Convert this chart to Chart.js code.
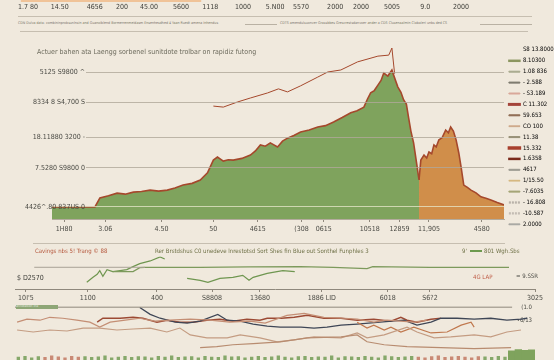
<!DOCTYPE html>
<html><head><meta charset="utf-8">
<script src="https://cdn.jsdelivr.net/npm/chart.js@4.4.1/dist/chart.umd.min.js"></script>
<style>
html,body{margin:0;padding:0;background:#f0e9dd;width:554px;height:360px;overflow:hidden;}
body{position:relative;font-family:"Liberation Sans Narrow","DejaVu Sans Condensed",sans-serif;}
canvas{position:absolute;}
.txt{position:absolute;white-space:nowrap;line-height:1;}
.hl{position:absolute;height:1px;background:#c6beb0;}
</style></head><body>
<canvas id="cTop" width="554" height="15" style="left:0;top:0"></canvas>
<div class="hl" style="left:18px;top:16px;width:514px"></div>
<div class="txt" style="left:18px;top:22px;font-size:3.6px;color:#7a776c">CDN Dulva data: combininprobsunlnsin and Guanoiblend Bormerrenmeidasm Ensenhesdhed 4 Yaan Ruedt amena Inhendus</div>
<div class="hl" style="left:245px;top:24px;width:32px;background:#b9b1a3"></div>
<div class="txt" style="left:280px;top:22px;font-size:3.6px;color:#7a776c">CDTS amendulsuonver Grassbbes Grescrestsdanvoer ander a CDS Clusenaalmin Clabaleri unbs ded CS</div>
<div class="hl" style="left:480px;top:24px;width:52px;background:#b9b1a3"></div>
<div class="hl" style="left:20px;top:31px;width:508px"></div>

<canvas id="cMain" width="554" height="215" style="left:0;top:30px"></canvas>
<div class="txt" style="left:37px;top:49px;font-size:7px;color:#6e6c5e">Actuer bahen ata Laengg sorbenel sunitdote trolbar on rapidiz futong</div>

<div class="hl" style="left:33px;top:243px;width:472px"></div>
<div class="txt" style="left:35px;top:248px;font-size:6px;color:#b5573c">Cavings nbs 5! Trang © 88</div>
<div class="txt" style="left:155px;top:248px;font-size:6px;color:#6e7046">Rer Brstdshus C0 unedeve lnrestotsd Sort Shes fin Blue out Sonthel Funphles 3</div>
<div class="txt" style="left:462px;top:248px;font-size:6px;color:#6e7046">9'</div>
<div class="hl" style="left:470px;top:250px;width:12px;height:2px;background:#6d9a4f"></div>
<div class="txt" style="left:484px;top:248px;font-size:6px;color:#6e7046">801 Wgh.Sbs</div>
<canvas id="cMid" width="554" height="52" style="left:0;top:250px"></canvas>
<div class="txt" style="left:473px;top:274px;font-size:6px;color:#c0604a">4G LAP</div>

<canvas id="cLow" width="554" height="61" style="left:0;top:300px"></canvas>
<div class="txt" style="left:16px;top:305px;width:42px;height:4px;background:#8ea676;font-size:3.4px;color:#e8eee0;overflow:hidden">annotation lnd</div>

<script>
// ---------- DATA ----------
// top strip
const topTickPos = [0, 1.03, 2.16, 3.04, 3.91, 4.95, 5.89, 6.95, 7.99, 8.83, 9.93, 10.77, 11.77, 12.84, 14.0];
const topTickLabels = ["1.7 80","14.50","4656","200","45.00","5600","1118","1000","5.N00","5570","2000","2000","5005","9.0","2000"];
const topBarRange = [-0.22, 5.59];

// main chart
const greenT = [0, 9.5, 10.6, 12.5, 14.4, 16.2, 18.0, 19.8, 21.7, 23.6, 25.5, 27.2, 29.0, 31.0, 32.8, 34.4, 35.7, 36.6, 37.9, 39.0, 40.1, 42.0, 43.9, 45.0, 46.1, 47.2, 48.3, 49.9, 51.0, 52.1, 53.5, 55.0, 56.9, 58.8, 60.5, 62.3, 64.2, 66.1, 67.5, 69.0, 69.8, 70.5, 71.3, 72.1, 72.8, 73.4, 74.3, 75.2, 75.6, 76.5, 77.2, 77.8, 78.4, 78.9, 79.4, 80.0, 80.5, 81.2];
const greenV = [0, 0, 0.27, 0.33, 0.41, 0.38, 0.44, 0.46, 0.50, 0.47, 0.50, 0.56, 0.65, 0.70, 0.80, 1.01, 1.39, 1.48, 1.36, 1.40, 1.39, 1.44, 1.54, 1.66, 1.84, 1.80, 1.90, 1.78, 1.95, 2.04, 2.12, 2.22, 2.28, 2.37, 2.41, 2.52, 2.65, 2.79, 2.85, 2.96, 3.20, 3.38, 3.45, 3.61, 3.75, 3.97, 3.88, 4.06, 3.90, 3.56, 3.40, 3.17, 3.05, 2.64, 2.25, 1.90, 1.45, 0.80];
const orangeT = [81.2, 81.6, 82.3, 82.9, 83.4, 84.0, 84.5, 85.0, 85.6, 86.3, 87.1, 87.7, 88.2, 88.8, 89.4, 90.0, 90.5, 91.1, 91.9, 92.7, 93.8, 94.9, 96.0, 97.1, 98.5, 100];
const orangeV = [0.80, 1.39, 1.54, 1.45, 1.63, 1.58, 1.84, 1.78, 1.99, 2.05, 2.28, 2.20, 2.37, 2.25, 1.99, 1.60, 1.19, 0.65, 0.58, 0.50, 0.42, 0.30, 0.26, 0.21, 0.13, 0.06];
const forecastT = [35.7, 37.9, 41.0, 43.9, 47.7, 50.1, 52.1, 55.0, 58.8, 61.0, 63.9, 67.6, 72.1, 74.5, 75.2, 75.8];
const forecastV = [2.99, 2.96, 3.11, 3.23, 3.38, 3.50, 3.41, 3.59, 3.85, 4.00, 4.06, 4.30, 4.47, 4.50, 4.71, 3.95];
const mainXTickPos = [2.7, 11.8, 24.2, 35.7, 45.5, 55.2, 60.1, 70.3, 76.9, 83.4, 95.1];
const mainXTickLabels = ["1H80","3.06","4.50","50","4615","(308","0615","10518","12859","11,905","4580"];
const mainYTickPos = [0, 1.16, 2.07, 3.11, 4.0];
const mainYTickLabels = ["4426^.80 837US 0","7.5280 S9800 0","18.11880 3200 -","8334 8 S4,700 S","5125 S9800 ^"];
const legendText = ["S8 13.8000","8.10300","1.08 836","- 2.588","- S3.189","C 11.302","59.653","CO 100","11.38","15.332","1.6358","4617","1/15.50","-7.6035","- 16.808","-10.587","2.0000"];
const legendColors = ["rgba(0,0,0,0)","#8c9660","#a9aa8e","#7d7a6e","#d9a89a","#a4443a","#8e6a52","#c9a080","#948e74","#a8402e","#7a2a1c","#9c9a92","#d2b377","#a3a474","#a7a199","#b6aea6","#a4a4a0"];
const legendWidths = [0, 1.5, 1, 1, 1, 2, 1, 0.6, 1, 2.5, 1.5, 1, 0.6, 1, 1, 1, 0.8];
const legendDashed = [false,false,false,false,false,false,false,false,false,false,false,false,false,false,true,true,false];

// middle panel
const midXTickPos = [2.1, 14.0, 27.3, 37.9, 47.1, 59.0, 71.7, 79.8, 100.0];
const midXTickLabels = ["10I'5","1100","400","S8808","13680","1886 LID","6018","S6?2","3025"];
const riseU = [13.8, 15.0, 15.8, 16.3, 16.9, 17.7, 18.8, 20.2, 21.5, 22.7, 24.0, 26.0, 27.9, 28.8];
const riseV = [2.0, 3.5, 4.4, 5.5, 3.8, 5.8, 5.2, 5.5, 5.8, 6.7, 7.6, 8.4, 9.6, 9.0];
const flatU = [18.8, 22.7, 24.0, 25.0, 35.6, 45.0, 54.8, 61.2, 67.7, 68.8, 79.8, 95.0];
const flatV = [5.2, 5.2, 6.4, 6.5, 6.5, 6.6, 6.7, 6.5, 6.1, 6.7, 6.5, 6.5];
const baseU = [3.7, 25.0];
const baseV = [6.5, 6.5];
const dipU = [33.1, 35.6, 37.1, 39.4, 41.9, 43.8, 45.0, 45.8, 48.5, 50.4, 51.5, 53.8];
const dipV = [3.2, 2.6, 2.0, 3.2, 3.5, 4.1, 2.6, 3.5, 4.7, 5.2, 5.5, 5.2];
const midLeftLabel = ["$ D2570"], midLeftPos = [3.3];
const midRightLabel = ["= 9.SSR"], midRightPos = [3.8];

// lower panel
const refU = [0, 95.6], refV = [89, 89];
const r1U = [15.8, 16.9, 18.3, 20.2, 22.7, 24.6, 27.3, 29.2, 31.7, 34.2, 36.9, 39.4, 41.9, 44.6, 47.1, 48.5, 51.2, 53.7, 56.2, 59.4, 62.7, 65.8, 69.0, 72.3, 74.2, 75.4, 77.3, 80.0, 81.9];
const r1V = [63.9, 70.5, 70.5, 70.5, 72.1, 70.5, 63.9, 67.2, 63.9, 63.9, 67.2, 68.9, 65.6, 68.9, 67.2, 70.5, 70.5, 72.1, 75.4, 70.5, 70.5, 67.2, 68.9, 65.6, 72.1, 67.2, 63.9, 68.9, 70.5];
const navyU = [24.0, 26.0, 27.9, 30.8, 33.1, 35.6, 39.0, 40.8, 43.3, 45.8, 48.5, 51.0, 55.0, 57.5, 60.0, 62.7, 65.8, 70.2, 74.8, 77.3, 80.0, 81.9, 85.0, 88.3, 91.5, 94.6, 97.3, 98.5];
const navyV = [88.5, 77.0, 70.5, 63.9, 62.3, 65.6, 77.0, 67.2, 65.6, 60.7, 57.4, 55.7, 55.7, 54.1, 55.7, 59.0, 60.7, 63.9, 67.2, 59.0, 63.9, 70.5, 70.5, 68.9, 70.5, 67.2, 68.9, 70.5];
const t1U = [0.4, 2.3, 4.8, 6.7, 9.2, 11.9, 14.4, 16.3, 18.3, 21.2, 24.0, 26.9, 29.8, 33.7, 37.5, 41.3, 45.2, 48.1, 52.3, 55.6, 59.4, 63.3, 65.8, 69.0, 71.5, 76.7, 79.2];
const t1V = [63.9, 68.9, 67.2, 72.1, 70.5, 67.2, 63.9, 55.7, 63.9, 67.2, 70.5, 65.6, 67.2, 68.9, 67.2, 63.9, 65.6, 62.3, 75.4, 78.7, 72.1, 70.5, 68.9, 63.9, 67.2, 63.9, 67.2];
const t2U = [0.4, 3.5, 6.7, 10.0, 13.1, 16.3, 19.6, 22.7, 26.0, 29.2, 31.7, 33.7, 36.9, 40.8, 43.3, 47.1, 50.4, 53.7, 57.5, 62.7, 65.8, 67.7, 71.0, 75.4, 77.3, 80.6, 83.8, 88.3, 91.5, 94.6, 97.3];
const t2V = [50.8, 47.5, 50.8, 49.2, 54.1, 54.1, 50.8, 52.5, 54.1, 47.5, 54.1, 42.6, 37.7, 37.7, 42.6, 37.7, 31.1, 34.4, 39.3, 37.7, 45.9, 37.7, 42.6, 55.7, 47.5, 37.7, 39.3, 42.6, 39.3, 47.5, 50.8];
const t3U = [35.6, 38.8, 41.9, 45.8, 51.0, 56.2, 62.7, 65.8, 67.7, 71.0, 75.4, 81.9, 88.3, 95.4];
const t3V = [21.3, 23.0, 26.2, 27.9, 31.1, 37.7, 39.3, 42.6, 31.1, 26.2, 23.0, 21.3, 19.7, 21.3];
const r2U = [65.8, 67.7, 69.0, 71.0, 72.3, 74.2, 76.7, 80.0, 83.1, 85.8, 87.7, 88.3];
const r2V = [63.9, 54.1, 59.0, 50.8, 55.7, 47.5, 55.7, 45.9, 47.5, 59.0, 63.9, 55.7];
const lowRightLabels = ["•6/13", "(1.0"], lowRightPos = [67, 89];
const grassVals = [1.2,1.5,1.0,1.4,1.1,1.6,1.3,1.0,1.5,1.2,1.4,1.1,1.3,1.6,1.0,1.2,1.5,1.1,1.4,1.3,1.0,1.5,1.2,1.6,1.1,1.3,1.4,1.0,1.5,1.2,1.1,1.6,1.3,1.4,1.0,1.2,1.5,1.1,1.3,1.6,1.2,1.0,1.4,1.5,1.1,1.3,1.2,1.6,1.0,1.4,1.3,1.1,1.5,1.2,1.0,1.6,1.4,1.1,1.3,1.5,1.2,1.0,1.4,1.6,1.1,1.3,1.5,1.2,1.0,1.4,1.3,1.1,1.5,1.2,0,0,0,0];
const blockVals = [0,0,0,0,0,0,0,0,0,0,0,0,0,0,0,0,0,0,0,0,0,0,0,0,0,0,0,0,0,0,0,0,0,0,0,0,0,0,0,0,0,0,0,0,0,0,0,0,0,0,0,0,0,0,0,0,0,0,0,0,0,0,0,0,0,0,0,0,0,0,0,0,0,0,3.2,3.6,3.4,3.5];
const reddishRanges = [[4, 9], [60, 69]];

// ---------- CHARTS ----------
const FAM = '"Liberation Sans Narrow","DejaVu Sans Condensed",sans-serif';
Chart.defaults.font.family = FAM;
Chart.defaults.color = '#4a4a44';
const pts = (xs, ys) => xs.map((x, i) => ({x, y: ys[i]}));
const fixTicks = arr => s => { s.ticks = arr.map(v => ({value: v})); };
const base = {responsive: false, animation: false, events: [], plugins: {legend: {display: false}, tooltip: {enabled: false}}};

// top strip
new Chart(document.getElementById('cTop'), {
  type: 'bar',
  data: {labels: [''], datasets: [{data: [topBarRange], backgroundColor: '#f0c398', barPercentage: 1, categoryPercentage: 1}]},
  options: Object.assign({}, base, {
    indexAxis: 'y',
    layout: {padding: {left: 12.5, right: 77.5, top: 0, bottom: 0}},
    scales: {
      y: {display: false},
      x: {type: 'linear', min: -0.5, max: 14.5, afterBuildTicks: fixTicks(topTickPos), afterFit: s => { s.height = 13; },
          grid: {display: false, drawTicks: false}, border: {display: false},
          ticks: {padding: 1, color: '#3d3d38', font: {size: 7}, maxRotation: 0, autoSkip: false, callback: (v, i) => topTickLabels[i]}}
    }
  })
});

// measure widest y label for main chart
const mctx = document.createElement('canvas').getContext('2d');
mctx.font = '7px ' + FAM;
const widest = Math.max(...mainYTickLabels.map(t => mctx.measureText(t).width));
const yPad = 33 - widest;

new Chart(document.getElementById('cMain'), {
  type: 'line',
  data: {datasets: [
    {data: pts(greenT, greenV), fill: 'start', backgroundColor: '#7fa35d', borderColor: '#a5482c', borderWidth: 1.6, pointRadius: 0, tension: 0},
    {data: pts(orangeT, orangeV), fill: 'start', backgroundColor: '#d08e4a', borderColor: '#a5482c', borderWidth: 1.6, pointRadius: 0, tension: 0},
    {data: pts(forecastT, forecastV), fill: false, borderColor: '#a5482c', borderWidth: 1, pointRadius: 0, tension: 0}
  ]},
  options: Object.assign({}, base, {
    layout: {padding: {top: 12, bottom: 10, left: 0, right: 0}},
    plugins: {
      tooltip: {enabled: false},
      legend: {
        display: true, position: 'right', align: 'start', maxWidth: 50,
        labels: {
          boxWidth: 11, boxHeight: 1, padding: 4.9, color: '#5a5850', font: {size: 6},
          generateLabels: () => legendText.map((t, i) => ({
            text: t, fillStyle: legendDashed[i] ? 'rgba(0,0,0,0)' : legendColors[i], strokeStyle: legendColors[i],
            lineWidth: legendWidths[i], lineDash: legendDashed[i] ? [2, 1] : [], hidden: false, index: i
          }))
        }
      }
    },
    scales: {
      x: {type: 'linear', min: 0, max: 100, afterBuildTicks: fixTicks(mainXTickPos), afterFit: s => { s.height = 16; },
          border: {display: true, color: '#b3ab9d'},
          grid: {drawOnChartArea: false, drawTicks: true, tickLength: 3, color: '#8f887c'},
          ticks: {padding: 3, color: '#4a4a44', font: {size: 7}, maxRotation: 0, autoSkip: false, callback: (v, i) => mainXTickLabels[i]}},
      y: {min: -0.356, max: 4.889, afterBuildTicks: fixTicks(mainYTickPos), afterFit: s => { s.width = 52; },
          border: {display: false},
          grid: {drawTicks: false, z: 1, color: c => c.index === 0 ? 'rgba(232,232,205,0.75)' : 'rgba(176,168,154,0.8)'},
          ticks: {mirror: true, crossAlign: 'far', padding: yPad, z: 2, color: '#4a4a44', font: {size: 7},
                  showLabelBackdrop: true, backdropPadding: 1,
                  backdropColor: c => c.index === 0 ? 'rgba(0,0,0,0)' : '#f0e9dd',
                  callback: (v, i) => mainYTickLabels[i]}}
    }
  })
});

// middle panel
new Chart(document.getElementById('cMid'), {
  type: 'line',
  data: {datasets: [
    {data: pts(baseU, baseV), borderColor: '#a9a296', borderWidth: 1, pointRadius: 0},
    {data: pts(flatU, flatV), borderColor: '#7d9a5c', borderWidth: 1.2, pointRadius: 0},
    {data: pts(riseU, riseV), borderColor: '#6f9650', borderWidth: 1.2, pointRadius: 0},
    {data: pts(dipU, dipV), borderColor: '#6f9650', borderWidth: 1.2, pointRadius: 0}
  ]},
  options: Object.assign({}, base, {
    layout: {padding: {top: 6, bottom: 0, left: 15, right: 19}},
    scales: {
      x: {type: 'linear', min: 0, max: 100, afterBuildTicks: fixTicks(midXTickPos), afterFit: s => { s.height = 13; },
          border: {display: true, color: '#8f887c'},
          grid: {drawOnChartArea: false, tickLength: 3, color: '#8f887c'},
          ticks: {padding: 2, color: '#4a4a44', font: {size: 7}, maxRotation: 0, autoSkip: false, callback: (v, i) => midXTickLabels[i]}},
      y: {min: 0, max: 9.7, afterBuildTicks: fixTicks(midLeftPos), afterFit: s => { s.width = 0; },
          grid: {display: false}, border: {display: false},
          ticks: {mirror: true, padding: 2, color: '#3d3d38', font: {size: 7}, callback: (v, i) => midLeftLabel[i]}},
      y2: {position: 'right', min: 0, max: 9.7, afterBuildTicks: fixTicks(midRightPos), afterFit: s => { s.width = 0; },
          grid: {display: false}, border: {display: false},
          ticks: {mirror: true, padding: 3, color: '#4a4a44', font: {size: 6}, callback: (v, i) => midRightLabel[i]}}
    }
  })
});

// lower panel
const isReddish = i => reddishRanges.some(r => i >= r[0] && i <= r[1]);
new Chart(document.getElementById('cLow'), {
  type: 'line',
  data: {
    labels: grassVals.map((v, i) => String(i)),
    datasets: [
      {type: 'bar', data: grassVals, xAxisID: 'xb', yAxisID: 'yb', grouped: false, barPercentage: 0.5, categoryPercentage: 1,
       backgroundColor: c => isReddish(c.dataIndex) ? '#c98a75' : '#86a86a'},
      {type: 'bar', data: blockVals, xAxisID: 'xb', yAxisID: 'yb', grouped: false, barPercentage: 1, categoryPercentage: 1, backgroundColor: '#7fa35d'},
      {data: pts(refU, refV), xAxisID: 'x', yAxisID: 'y', borderColor: '#8f887c', borderWidth: 1, pointRadius: 0},
      {data: pts(t3U, t3V), xAxisID: 'x', yAxisID: 'y', borderColor: '#b88c70', borderWidth: 1.2, pointRadius: 0},
      {data: pts(t2U, t2V), xAxisID: 'x', yAxisID: 'y', borderColor: '#c49c82', borderWidth: 1.2, pointRadius: 0},
      {data: pts(t1U, t1V), xAxisID: 'x', yAxisID: 'y', borderColor: '#c48e74', borderWidth: 1.2, pointRadius: 0},
      {data: pts(r2U, r2V), xAxisID: 'x', yAxisID: 'y', borderColor: '#c0784e', borderWidth: 1.2, pointRadius: 0},
      {data: pts(navyU, navyV), xAxisID: 'x', yAxisID: 'y', borderColor: '#3e4656', borderWidth: 1.3, pointRadius: 0},
      {data: pts(r1U, r1V), xAxisID: 'x', yAxisID: 'y', borderColor: '#9c4a34', borderWidth: 1.4, pointRadius: 0}
    ]
  },
  options: Object.assign({}, base, {
    layout: {padding: {top: 0, bottom: 0, left: 15, right: 19}},
    scales: {
      x: {type: 'linear', min: 0, max: 100, display: false},
      xb: {type: 'category', display: false, offset: true},
      y: {min: 0, max: 100, display: false},
      yb: {min: 0, max: 20, display: false},
      yr: {position: 'right', min: 0, max: 100, afterBuildTicks: fixTicks(lowRightPos), afterFit: s => { s.width = 0; },
           grid: {display: false}, border: {display: false},
           ticks: {mirror: true, padding: -3, color: '#4a4a44', font: {size: 6}, callback: (v, i) => lowRightLabels[i]}}
    }
  })
});
</script>
</body></html>
